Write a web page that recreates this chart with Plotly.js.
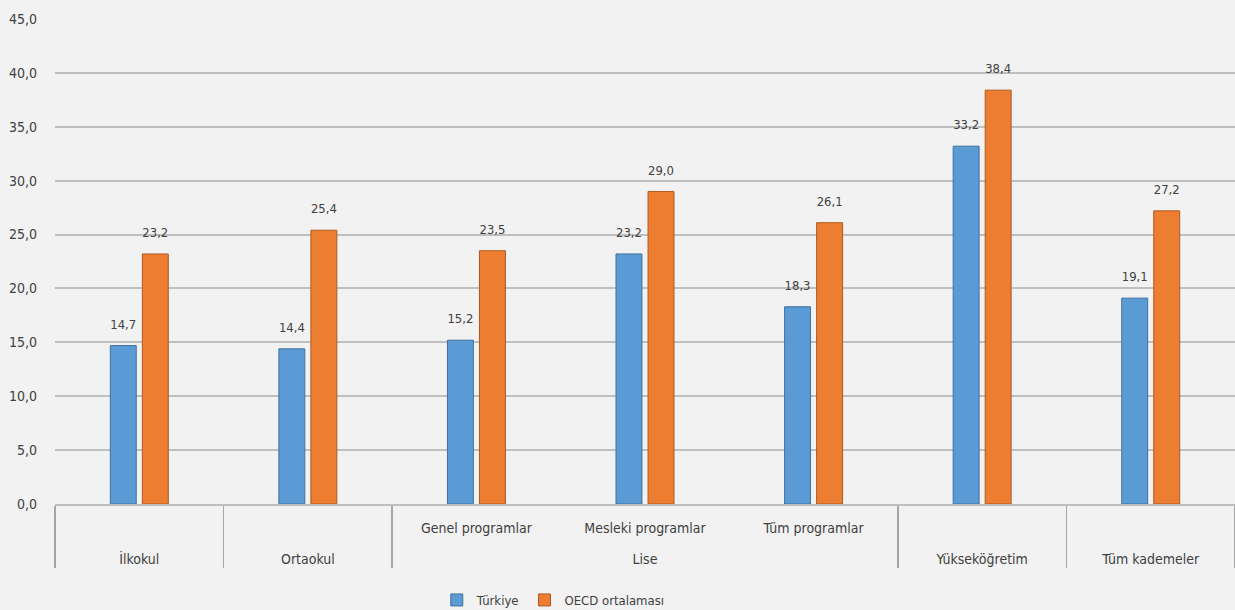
<!DOCTYPE html>
<html><head><meta charset="utf-8">
<script src="https://cdn.plot.ly/plotly-3.0.1.min.js"></script>
<style>html,body{margin:0;padding:0;background:#f2f2f2}</style>
</head><body>
<div id="chart" style="width:1235px;height:610px"></div>
<script>
const outerLabels = ["İlkokul","Ortaokul","Lise","Lise","Lise","Yükseköğretim","Tüm kademeler"];
const innerLabels = [" ","  ","Genel programlar","Mesleki programlar","Tüm programlar","   ","    "];
const turkiye = [14.7,14.4,15.2,23.2,18.3,33.2,19.1];
const oecd = [23.2,25.4,23.5,29.0,26.1,38.4,27.2];
const yTicks = [0,5,10,15,20,25,30,35,40,45];

const FONT = "'Liberation Sans Narrow','DejaVu Sans Condensed','Arial Narrow',sans-serif";
const x = [outerLabels, innerLabels.map(s => s.trim() ? s + '<br><span style="font-size:32px"> </span>' : s)];
const common = {type:'bar', x:x, textposition:'outside',
  texttemplate:'<span style="font-size:14px">%{y:.1f}</span><br> ',
  textfont:{family:FONT,size:10,color:'#404040'}, cliponaxis:false};
const data = [
  Object.assign({}, common, {name:'Türkiye', y:turkiye,
    marker:{color:'#5b9bd5', line:{color:'#41719c', width:1}}}),
  Object.assign({}, common, {name:'OECD ortalaması', y:oecd,
    marker:{color:'#ed7d31', line:{color:'#ae5a21', width:1}}})
];
const layout = {
  width:1235, height:610,
  paper_bgcolor:'#f2f2f2', plot_bgcolor:'#f2f2f2',
  margin:{l:55, r:0, t:19, b:106},
  separators:',.',
  font:{family:FONT, size:14, color:'#404040'},
  barmode:'group', bargap:0.62, bargroupgap:0.19,
  showlegend:true,
  legend:{orientation:'h', x:0.448, xanchor:'center', xref:'container', yref:'container', y:0.0164, yanchor:'middle',
    font:{family:FONT,size:13,color:'#404040'}, itemwidth:30, traceorder:'normal'},
  xaxis:{type:'multicategory', automargin:false, showgrid:false, showline:true, linecolor:'#bfbfbf', linewidth:2,
    showdividers:true, dividercolor:'#a6a6a6', dividerwidth:1.5, ticks:'', ticklabelstandoff:10,
    tickfont:{family:FONT,size:14,color:'#404040'}},
  yaxis:{range:[0,45], automargin:false, tickvals:yTicks, tickformat:'.1f', showgrid:true, gridcolor:'#bfbfbf', gridwidth:2,
    zeroline:false, showline:false, ticks:'', ticklabelstandoff:17,
    tickfont:{family:FONT,size:14,color:'#404040'}}
};
Plotly.newPlot('chart', data, layout, {displayModeBar:false, staticPlot:true});
</script>
</body></html>
